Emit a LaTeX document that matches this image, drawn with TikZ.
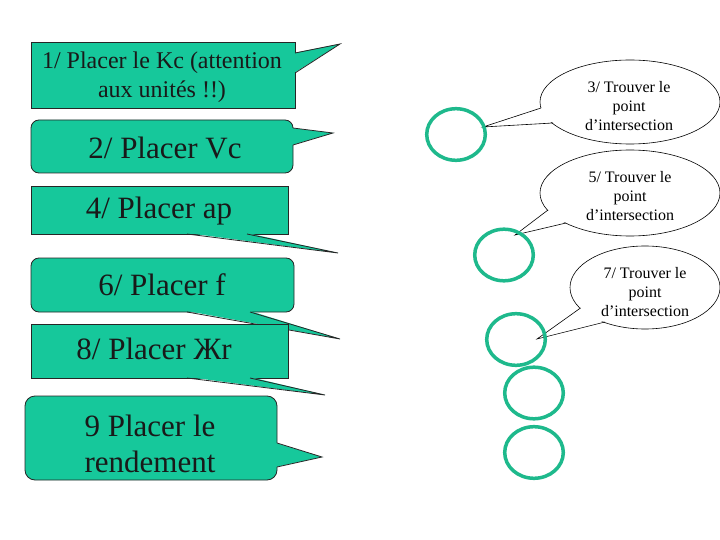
\documentclass[tikz,border=0pt]{standalone}
\usepackage{fontspec}
\setmainfont{Liberation Serif}
\definecolor{boxgreen}{RGB}{22,200,155}
\definecolor{ringgreen}{RGB}{30,185,140}
\begin{document}
\begin{tikzpicture}[x=1pt,y=-1pt,
  box/.style={fill=boxgreen,draw=black!85,line width=0.8pt},
  tailline/.style={draw=black!85,line width=0.8pt},
  bubble/.style={fill=white,draw=black,line width=0.6pt},
  bubtail/.style={draw=black,line width=0.6pt},
  ring/.style={draw=ringgreen,line width=3.5pt},
  btext/.style={font=\fontsize{31}{36}\selectfont,align=center,inner sep=0pt,text=black!90},
  stext/.style={font=\fontsize{24}{29}\selectfont,align=center,inner sep=0pt,text=black!90},
  etext/.style={font=\fontsize{16}{19}\selectfont,align=center,inner sep=0pt}]
\useasboundingbox (0,0) rectangle (720,540);
\fill[white] (0,0) rectangle (720,540);

% box 1
\draw[box] (31,42) rectangle (295,108);
\fill[boxgreen] (294,53) -- (340,44) -- (294,73) -- cycle;
\draw[tailline] (295,53) -- (340,44) -- (295,73);
\node[stext] (t1) at (162,77) {1/ Placer le Kc (attention\\aux unités !!)};

% box 2
\draw[box,rounded corners=8pt] (31,120) rectangle (293,173);
\fill[boxgreen] (292,128) -- (333,133) -- (292,145) -- cycle;
\draw[tailline] (293,128) -- (333,133) -- (293,145);
\node[btext] (t2) at (165,148) {2/ Placer Vc};

% box 4
\draw[box] (31,186) rectangle (288,234);
\fill[boxgreen] (187,233) -- (338,253) -- (247,233) -- cycle;
\draw[tailline] (187,234) -- (338,253) -- (247,234);
\node[btext] (t4) at (159,211) {4/ Placer ap};

% box 6
\draw[box,rounded corners=8pt] (31,258) rectangle (294,312);
\fill[boxgreen] (187,311) -- (340,339) -- (250,311) -- cycle;
\draw[tailline] (187,312) -- (340,339) -- (250,312);
\node[btext] (t6) at (162,285) {6/ Placer f};

% box 8
\draw[box] (31,324) rectangle (288,378);
\fill[boxgreen] (187,377) -- (325,395) -- (250,377) -- cycle;
\draw[tailline] (187,378) -- (325,395) -- (250,378);
\node[btext] (t8) at (154,349) {8/ Placer Жr};

% box 9
\draw[box,rounded corners=10pt] (25,396) rectangle (277,480);
\fill[boxgreen] (276,443) -- (322,457) -- (276,467) -- cycle;
\draw[tailline] (277,443) -- (322,457) -- (277,467);
\node[btext] (t9) at (150,444) {9 Placer le\\rendement};

% bubbles
\coordinate (e3) at (630,102);
\draw[bubble] (e3) ellipse [x radius=90, y radius=42];
\fill[white] (542,108) -- (483,127) -- (553,122) -- (555,110) -- cycle;
\draw[bubtail] (541,108) -- (483,127) -- (553,123);
\node[etext] (t3) at (629,106) {3/ Trouver le\\point\\d’intersection};

\coordinate (e5) at (630,193);
\draw[bubble] (e5) ellipse [x radius=90, y radius=43];
\fill[white] (549,210) -- (515,235) -- (566,222) -- (566,212) -- cycle;
\draw[bubtail] (548,210) -- (515,235) -- (566,223);
\node[etext] (t5) at (630,196) {5/ Trouver le\\point\\d’intersection};

\coordinate (e7) at (645,287.5);
\draw[bubble] (e7) ellipse [x radius=75, y radius=41.5];
\fill[white] (581,308) -- (537,339) -- (604,321) -- (604,310) -- cycle;
\draw[bubtail] (580.5,308) -- (537,339) -- (605,322);
\node[etext] (t7) at (645,292) {7/ Trouver le\\point\\d’intersection};

% rings
\coordinate (c1) at (456,134.5);
\coordinate (c2) at (504,255);
\coordinate (c3) at (516,339.5);
\coordinate (c4) at (534,393);
\coordinate (c5) at (534,452.5);
\foreach \c in {c1,c2,c3,c4,c5}
  \draw[ring] (\c) ellipse [x radius=29.3, y radius=25.8];
\end{tikzpicture}
\end{document}
